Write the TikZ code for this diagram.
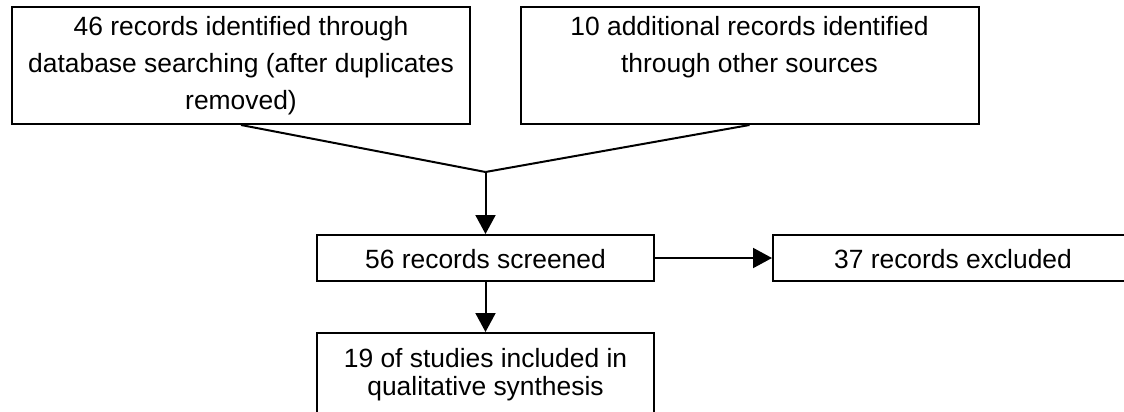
\documentclass[tikz,border=0pt]{standalone}
\usepackage{fontspec}
\setmainfont{Liberation Sans}
\usetikzlibrary{arrows.meta,positioning}
\newcommand{\topfont}{\fontsize{13.2}{18.5}\selectfont}
\newcommand{\lowfont}{\fontsize{13.2}{14}\selectfont}

\begin{document}
\begin{tikzpicture}[x=0.5pt,y=-0.5pt]
\tikzset{
  box/.style={draw,line width=1pt,rectangle,inner sep=0pt},
  topbox/.style={box,font=\topfont,minimum width=229pt,text height=14pt,text depth=44.5pt},
  midbox/.style={box,font=\topfont,text height=16.5pt,text depth=6.5pt},
  line/.style={line width=1pt},
  arrow/.style={line width=1pt,-{Triangle[length=9.5pt,width=10pt]}}
}
\useasboundingbox (0,0) rectangle (1124,412);
\clip (0,0) rectangle (1124,412);

\node[topbox] (database) at (241,65.5)
  {\parbox[t]{225pt}{\centering 46 records identified through\\database searching (after duplicates\\removed)}};
\node[topbox] (other) at (749.5,65.5)
  {\parbox[t]{225pt}{\centering 10 additional records identified\\through other sources}};
\coordinate (join) at (485.5,172);

\node[midbox,minimum width=168.5pt] (screened) at (485.5,258) {56 records screened};
\node[midbox,minimum width=180pt] (excluded) at (953,258) {37 records excluded};
\node[box,font=\lowfont,minimum width=168.5pt,text height=17pt,text depth=28pt] (included) at (485.5,378)
  {\parbox[t]{165pt}{\centering 19 of studies included in\\qualitative synthesis}};

\draw[line] (database.south) -- (join);
\draw[line] (other.south) -- (join);
\draw[arrow] (join) -- (screened.north);
\draw[arrow] (screened.east) -- (excluded.west);
\draw[arrow] (screened.south) -- (included.north);

\end{tikzpicture}
\end{document}
